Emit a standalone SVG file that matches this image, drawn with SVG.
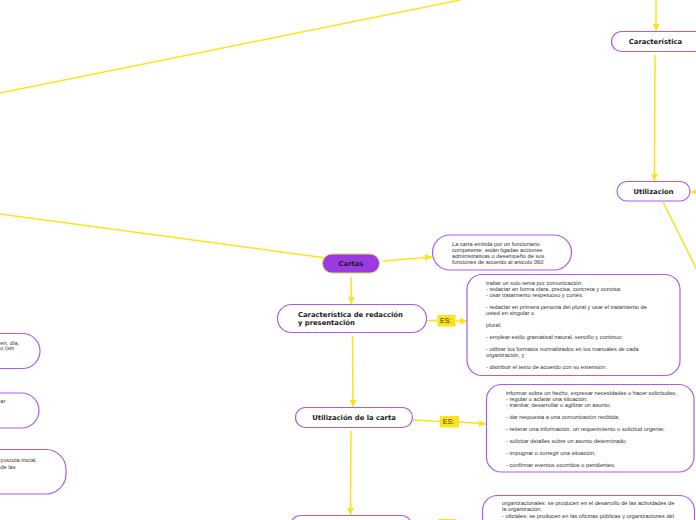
<svg xmlns="http://www.w3.org/2000/svg" width="696" height="520" viewBox="0 0 696 520">
<defs>
<marker id="arr" viewBox="0 0 10 10" refX="10" refY="5" markerWidth="7" markerHeight="7" markerUnits="userSpaceOnUse" orient="auto">
<path d="M0,0 L10,5 L0,10 z" fill="#ffe31a"/>
</marker>
<style>
.c{stroke:#ffe31a;stroke-width:1.5;fill:none}
.n{fill:#fff;stroke:#a95cf0;stroke-width:1.2}
.t{font-family:"DejaVu Sans",Verdana,sans-serif;font-weight:bold;font-size:6.8px;fill:#1a1a1a}
.m{text-anchor:middle}
.s{font-family:"Liberation Sans",Arial,sans-serif;font-size:5.7px;fill:#333}
.es{fill:#ffe31a}
.est{font-family:"Liberation Sans",Arial,sans-serif;font-size:7px;fill:#333}
</style>
</defs>
<rect width="696" height="520" fill="#fff"/>

<g id="connectors">
<line class="c" x1="0" y1="93" x2="460" y2="0"/>
<line class="c" x1="0" y1="214" x2="326" y2="258"/>
<line class="c" x1="383" y1="261" x2="432" y2="257" marker-end="url(#arr)"/>
<line class="c" x1="351" y1="277" x2="351.5" y2="304" marker-end="url(#arr)"/>
<line class="c" x1="427" y1="320.5" x2="437" y2="320.5"/>
<line class="c" x1="456" y1="321" x2="467" y2="321" marker-end="url(#arr)"/>
<line class="c" x1="352.5" y1="336" x2="353" y2="407" marker-end="url(#arr)"/>
<line class="c" x1="413" y1="420" x2="440" y2="421.5"/>
<line class="c" x1="459" y1="422" x2="486" y2="424" marker-end="url(#arr)"/>
<line class="c" x1="351" y1="431" x2="350.5" y2="515" marker-end="url(#arr)"/>
<line class="c" x1="413" y1="522" x2="438" y2="522"/>
<line class="c" x1="656" y1="0" x2="656" y2="31" marker-end="url(#arr)"/>
<line class="c" x1="655" y1="55" x2="654.5" y2="181" marker-end="url(#arr)"/>
<line class="c" x1="663" y1="202" x2="697" y2="270"/>
<line class="c" x1="702" y1="192" x2="691" y2="192" marker-end="url(#arr)"/>
</g>

<g id="cartas">
<rect x="322.5" y="254" width="57" height="19" rx="9.5" fill="#9b3ae3" stroke="#e8d34f" stroke-width="1"/>
<text class="t m" x="351" y="266">Cartas</text>
</g>

<g id="definicion">
<rect class="n" x="432.5" y="235" width="139" height="35" rx="17.5"/>
<text class="s" x="452" y="246.3">La carta emitida por un funcionario</text>
<text class="s" x="452" y="252.3">competente. están ligadas acciones</text>
<text class="s" x="452" y="258.3">administrativas o desempeño de sus</text>
<text class="s" x="452" y="264.3">funciones de acuerdo al articulo 060</text>
</g>

<g id="caracteristica-redaccion">
<rect class="n" x="277.5" y="304.5" width="149" height="28" rx="14"/>
<text class="t" x="298" y="316.8">Característica de redacción</text>
<text class="t" x="298" y="325">y presentación</text>
</g>

<g id="es1">
<rect class="es" x="437.5" y="315" width="18" height="11.5"/>
<text class="est" x="440" y="323.3">ES:</text>
</g>

<g id="nota-redaccion">
<rect class="n" x="467" y="274.5" width="213" height="101" rx="15"/>
<text class="s" x="486" y="284.7">trabar un solo tema por comunicación;</text>
<text class="s" x="486" y="290.7">- redactar en forma clara, precisa, concreta y concisa;</text>
<text class="s" x="486" y="296.7">- usar tratamiento respetuoso y cortés;</text>
<text class="s" x="486" y="309">- redactar en primera persona del plural y usar el tratamiento de</text>
<text class="s" x="486" y="315">usted en singular o</text>
<text class="s" x="486" y="327.3">plural;</text>
<text class="s" x="486" y="339.3">- emplear estilo gramatical natural, sencillo y continuo;</text>
<text class="s" x="486" y="351">- utilizar los formatos normalizados en los manuales de cada</text>
<text class="s" x="486" y="357.3">organización, y</text>
<text class="s" x="486" y="369">- distribuir el texto de acuerdo con su extensión.</text>
</g>

<g id="utilizacion-carta">
<rect class="n" x="295.5" y="407.5" width="117" height="20" rx="10"/>
<text class="t m" x="354" y="420">Utilización de la carta</text>
</g>

<g id="es2">
<rect class="es" x="440" y="416" width="19" height="11.5"/>
<text class="est" x="442.8" y="424.3">ES:</text>
</g>

<g id="nota-utilizacion">
<rect class="n" x="486.5" y="384.5" width="207.5" height="87.5" rx="15"/>
<text class="s" x="506" y="395.3">informar sobre un hecho, expresar necesidades o hacer solicitudes;</text>
<text class="s" x="506" y="401">- regular o aclarar una situación;</text>
<text class="s" x="506" y="407">- tramitar, desarrollar o agilizar un asunto;</text>
<text class="s" x="506" y="419">- dar respuesta a una comunicación recibida;</text>
<text class="s" x="506" y="431.3">- reiterar una información, un requerimiento o solicitud urgente;</text>
<text class="s" x="506" y="443.3">- solicitar detalles sobre un asunto determinado;</text>
<text class="s" x="506" y="455">- impugnar o corregir una situación;</text>
<text class="s" x="506" y="467.3">- confirmar eventos ocurridos o pendientes;</text>
</g>

<g id="nodo-inferior">
<rect class="n" x="290.5" y="515.5" width="121" height="20" rx="10"/>
</g>

<g id="es3">
<rect class="es" x="438" y="519" width="18.5" height="11.5"/>
</g>

<g id="nota-inferior">
<rect class="n" x="482.5" y="495.5" width="212" height="60" rx="15"/>
<text class="s" x="502" y="505.3">organizacionales: se producen en el desarrollo de las actividades de</text>
<text class="s" x="502" y="511.3">la organización;</text>
<text class="s" x="502" y="517.7">- oficiales: se producen en las oficinas públicas y organizaciones del</text>
</g>

<g id="caracteristica">
<rect class="n" x="611.5" y="31.5" width="110" height="20" rx="10"/>
<text class="t m" x="655.5" y="44">Característica</text>
</g>

<g id="utilizacion">
<rect class="n" x="617" y="181.5" width="73" height="19.5" rx="9.75"/>
<text class="t m" x="653.5" y="193.7">Utilizacion</text>
</g>

<g id="nodo-izq-1">
<rect class="n" x="-100" y="333.5" width="140" height="35" rx="17.5"/>
<text class="s" x="0.3" y="344.6">en, día,</text>
<text class="s" x="0.3" y="350.2">o (sin</text>
</g>

<g id="nodo-izq-2">
<rect class="n" x="-100" y="393" width="139" height="35" rx="17.5"/>
<text class="s" x="0.3" y="403">ar</text>
</g>

<g id="nodo-izq-3">
<rect class="n" x="-100" y="449.5" width="166" height="44.5" rx="20"/>
<text class="s" x="0.3" y="462.3">yúscula inicial.</text>
<text class="s" x="0.3" y="468.7">de las</text>
</g>
</svg>
